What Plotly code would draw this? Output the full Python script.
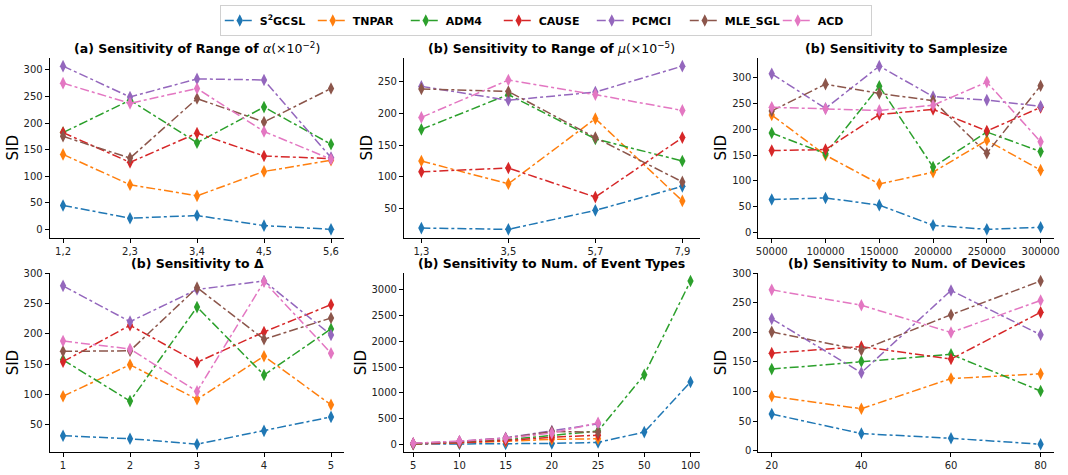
import plotly.graph_objects as go

methods = ["S<sup>2</sup>GCSL", "TNPAR", "ADM4", "CAUSE", "PCMCI", "MLE_SGL", "ACD"]
colors = ["#1f77b4", "#ff7f0e", "#2ca02c", "#d62728", "#9467bd", "#8c564b", "#e377c2"]

# (a) range of alpha
alpha_x = ["1,2", "2,3", "3,4", "4,5", "5,6"]
alpha_vals = [
    [45, 21, 26, 7, 0],
    [141, 84, 63, 109, 130],
    [182, 243, 163, 230, 160],
    [182, 126, 181, 138, 133],
    [307, 249, 283, 281, 135],
    [175, 134, 246, 202, 265],
    [275, 237, 265, 184, 132],
]

# (b) range of mu
mu_x = ["1,3", "3,5", "5,7", "7,9"]
mu_vals = [
    [19, 17, 47, 85],
    [125, 89, 192, 62],
    [175, 230, 160, 125],
    [108, 114, 68, 162],
    [243, 221, 234, 275],
    [239, 235, 162, 92],
    [194, 253, 230, 205],
]

# sample size
ss_x = [50000, 100000, 150000, 200000, 250000, 300000]
ss_vals = [
    [64, 67, 53, 14, 6, 10],
    [228, 150, 94, 117, 179, 121],
    [193, 153, 284, 127, 195, 157],
    [159, 161, 229, 239, 197, 243],
    [308, 241, 323, 264, 257, 245],
    [236, 288, 270, 256, 154, 285],
    [243, 240, 237, 247, 292, 176],
]

# delta
delta_x = [1, 2, 3, 4, 5]
delta_vals = [
    [32, 27, 18, 40, 63],
    [97, 149, 92, 163, 83],
    [157, 89, 244, 132, 208],
    [154, 214, 153, 203, 248],
    [279, 220, 273, 287, 198],
    [171, 172, 276, 191, 226],
    [188, 175, 105, 286, 168],
]

# number of event types
ev_x = ["5", "10", "15", "20", "25", "50", "100"]
ev_vals = [
    [5, 10, 8, 20, 40, 240, 1210],
    [10, 30, 60, 100, 110],
    [15, 40, 90, 180, 260, 1350, 3170],
    [12, 35, 75, 140, 180],
    [20, 60, 130, 260, 400],
    [18, 55, 120, 250, 240],
    [25, 65, 120, 220, 420],
]

# number of devices
dev_x = [20, 40, 60, 80]
dev_vals = [
    [62, 29, 21, 11],
    [92, 71, 122, 130],
    [138, 151, 163, 101],
    [165, 176, 155, 234],
    [223, 132, 271, 196],
    [201, 170, 230, 287],
    [272, 246, 200, 254],
]

titles = [
    "<b>(a) Sensitivity of Range of </b><i>α</i>(×10<sup>−2</sup>)",
    "<b>(b) Sensitivity to Range of </b><i>μ</i>(×10<sup>−5</sup>)",
    "<b>(b) Sensitivity to Samplesize</b>",
    "<b>(b) Sensitivity to Δ</b>",
    "<b>(b) Sensitivity to Num. of Event Types</b>",
    "<b>(b) Sensitivity to Num. of Devices</b>",
]

W, H = 1068, 475
xdoms = [(48, 345), (405, 703), (762, 1060)]
ydoms = [(54, 237), (273, 456)]

panels = [
    (alpha_x, alpha_vals, "cat", [0, 50, 100, 150, 200, 250, 300]),
    (mu_x, mu_vals, "cat", [50, 100, 150, 200, 250]),
    (ss_x, ss_vals, "num", [0, 50, 100, 150, 200, 250, 300]),
    (delta_x, delta_vals, "num", [50, 100, 150, 200, 250, 300]),
    (ev_x, ev_vals, "cat", [0, 500, 1000, 1500, 2000, 2500, 3000]),
    (dev_x, dev_vals, "num", [0, 50, 100, 150, 200, 250, 300]),
]

fig = go.Figure()
layout = {}
font_fam = "DejaVu Sans"
for i, (xs, vals, kind, yt) in enumerate(panels):
    r, c = divmod(i, 3)
    n = i + 1
    xa = "x" if n == 1 else f"x{n}"
    ya = "y" if n == 1 else f"y{n}"
    for m in range(len(methods)):
        v = vals[m]
        fig.add_trace(go.Scatter(
            x=xs[:len(v)], y=v, xaxis=xa, yaxis=ya,
            mode="lines+markers", name=f"<b>{methods[m]}</b>",
            legendgroup=methods[m], showlegend=(i == 0),
            line=dict(color=colors[m], width=1.5, dash="dashdot"),
            marker=dict(symbol="diamond-tall", size=9, color=colors[m]),
        ))
    allv = [a for v in vals for a in v]
    lo, hi = min(allv), max(allv)
    pad = (hi - lo) * 0.05
    if kind == "cat":
        xr = [-0.2, len(xs) - 1 + 0.2]
        xtype = "category"
    else:
        span = xs[-1] - xs[0]
        xr = [xs[0] - 0.05 * span, xs[-1] + 0.05 * span]
        xtype = "linear"
    x0, x1 = xdoms[c]
    y0, y1 = ydoms[r]
    xkey = "xaxis" if n == 1 else f"xaxis{n}"
    ykey = "yaxis" if n == 1 else f"yaxis{n}"
    xdict = dict(
        domain=[x0 / W, x1 / W], anchor=ya, type=xtype, range=xr,
        showline=True, linecolor="black", linewidth=1, ticks="outside",
        ticklen=4, tickcolor="black", showgrid=False, zeroline=False,
        tickfont=dict(size=10, color="#222", family=font_fam),
    )
    if kind == "num":
        xdict.update(tickvals=xs, tickformat="d")
    layout[xkey] = xdict
    layout[ykey] = dict(
        domain=[1 - y1 / H, 1 - y0 / H], anchor=xa, range=[lo - pad, hi + pad],
        showline=True, linecolor="black", linewidth=1, ticks="outside",
        ticklen=4, tickcolor="black", showgrid=False, zeroline=False,
        tickvals=yt, tickfont=dict(size=10, color="#222", family=font_fam),
        title=dict(text="SID", font=dict(size=15, color="black", family=font_fam), standoff=1),
    )

annotations = []
for i, t in enumerate(titles):
    r, c = divmod(i, 3)
    x0, x1 = xdoms[c]
    y0, _ = ydoms[r]
    annotations.append(dict(
        text=t, x=(x0 + x1) / 2 / W, y=1 - y0 / H, xref="paper", yref="paper",
        xanchor="center", yanchor="bottom", yshift=0, showarrow=False,
        font=dict(size=12.5, color="black", family=font_fam),
    ))

fig.update_layout(
    width=W, height=H, margin=dict(l=0, r=0, t=0, b=0),
    plot_bgcolor="white", paper_bgcolor="white",
    font=dict(family=font_fam, color="black"),
    legend=dict(orientation="h", x=0.513, xanchor="center", y=1, yanchor="top",
                bordercolor="#d0d0d0", borderwidth=1, font=dict(size=11, family=font_fam),
                entrywidth=48, tracegroupgap=0),
    annotations=annotations,
    **layout,
)
fig.write_html("out.html")
